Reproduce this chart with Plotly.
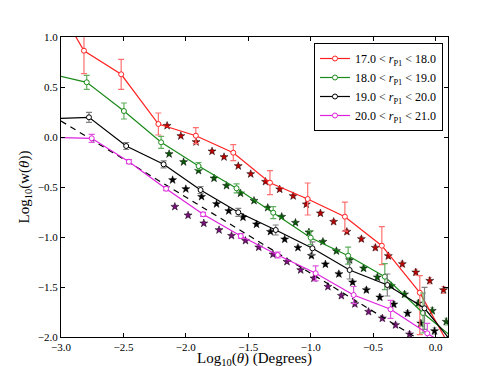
import plotly.graph_objects as go

# binned w(theta) for four r_P1 magnitude slices (open circles + lines)
labels = ['17.0 &lt; <i>r</i><sub>P1</sub> &lt; 18.0',
          '18.0 &lt; <i>r</i><sub>P1</sub> &lt; 19.0',
          '19.0 &lt; <i>r</i><sub>P1</sub> &lt; 20.0',
          '20.0 &lt; <i>r</i><sub>P1</sub> &lt; 21.0']

red_x = [-3.12, -2.816, -2.518, -2.22, -1.92, -1.62, -1.326, -1.024, -0.726, -0.43, -0.126, 0.174]
red_y = [1.51, 0.863, 0.627, 0.13, 0.013, -0.157, -0.457, -0.62, -0.797, -1.087, -1.557, -2.23]
red_up = [0.3, 0.24, 0.15, 0.11, 0.08, 0.08, 0.12, 0.16, 0.145, 0.19, 0.17, 0.3]
red_dn = [0.3, 0.23, 0.15, 0.11, 0.08, 0.08, 0.12, 0.16, 0.145, 0.19, 0.42, 0.3]

green_x = [-3.1, -2.794, -2.496, -2.198, -1.898, -1.594, -1.30, -1.0, -0.70, -0.406, -0.1, 0.2]
green_y = [0.635, 0.547, 0.26, -0.053, -0.29, -0.513, -0.757, -1.007, -1.187, -1.397, -1.76, -2.07]
green_err = [0.07, 0.07, 0.08, 0.06, 0.035, 0.045, 0.06, 0.07, 0.085, 0.13, 0.2, 0.25]

black_x = [-3.08, -2.776, -2.478, -2.178, -1.882, -1.58, -1.28, -0.986, -0.688, -0.386, -0.088, 0.21]
black_y = [0.183, 0.197, -0.09, -0.273, -0.53, -0.753, -0.93, -1.113, -1.33, -1.48, -1.713, -2.17]
black_err = [0.05, 0.05, 0.035, 0.035, 0.035, 0.04, 0.05, 0.065, 0.09, 0.11, 0.21, 0.3]

mag_x = [-3.06, -2.754, -2.456, -2.158, -1.862, -1.56, -1.264, -0.96, -0.656, -0.36, -0.066, 0.234]
mag_y = [-0.005, -0.013, -0.247, -0.517, -0.773, -0.99, -1.18, -1.363, -1.58, -1.723, -1.963, -2.2]
mag_err = [0.04, 0.04, 0.02, 0.02, 0.02, 0.025, 0.03, 0.075, 0.085, 0.09, 0.1, 0.15]

# finer binned measurements (stars)
rs_x = [-2.15, -2.04, -1.918, -1.79, -1.694, -1.58, -1.48, -1.362, -1.248, -1.14, -1.035,
        -0.922, -0.816, -0.71, -0.594, -0.482, -0.378, -0.266, -0.158, -0.046, 0.064]
rs_y = [0.113, 0.01, -0.05, -0.143, -0.2, -0.29, -0.37, -0.447, -0.523, -0.59, -0.673,
        -0.763, -0.847, -0.947, -1.02, -1.107, -1.19, -1.27, -1.353, -1.437, -1.53]
gs_x = [-2.134, -2.018, -1.898, -1.774, -1.674, -1.562, -1.454, -1.344, -1.232, -1.122, -1.014,
        -0.902, -0.794, -0.688, -0.576, -0.466, -0.354, -0.248, -0.138, -0.026, 0.086]
gs_y = [-0.17, -0.25, -0.337, -0.413, -0.487, -0.563, -0.637, -0.707, -0.797, -0.857, -0.953,
        -1.047, -1.14, -1.23, -1.313, -1.403, -1.49, -1.573, -1.663, -1.737, -1.847]
ks_x = [-2.106, -2.0, -1.874, -1.754, -1.656, -1.542, -1.434, -1.322, -1.208, -1.102, -0.994,
        -0.882, -0.774, -0.664, -0.554, -0.446, -0.334, -0.224, -0.118, -0.008, 0.102]
ks_y = [-0.43, -0.52, -0.597, -0.67, -0.74, -0.803, -0.873, -0.947, -1.023, -1.107, -1.187,
        -1.273, -1.37, -1.453, -1.53, -1.603, -1.673, -1.763, -1.863, -1.94, -2.03]
ps_x = [-2.088, -1.982, -1.856, -1.734, -1.634, -1.522, -1.416, -1.302, -1.19, -1.08, -0.974,
        -0.862, -0.754, -0.646, -0.536, -0.426, -0.32, -0.208, -0.1, 0.01, 0.12]
ps_y = [-0.697, -0.783, -0.863, -0.93, -0.987, -1.037, -1.103, -1.173, -1.247, -1.33, -1.413,
        -1.497, -1.587, -1.67, -1.747, -1.813, -1.88, -1.973, -2.05, -2.1, -2.2]
star_err = [0.015, 0.015, 0.015, 0.015, 0.015, 0.015, 0.017, 0.017, 0.018, 0.018, 0.02,
            0.02, 0.022, 0.022, 0.024, 0.025, 0.026, 0.028, 0.03, 0.032, 0.035]

# power-law reference (dashed)
dash_x = [-3.0, 0.1]
dash_y = [0.16, -2.2]

fig = go.Figure()

stars = [(rs_x, rs_y, '#c00000', '#ff8a8a'),
         (gs_x, gs_y, '#0a5a0a', '#8fcf8f'),
         (ks_x, ks_y, '#000000', '#999999'),
         (ps_x, ps_y, '#7a107a', '#e08ae0')]
for sx, sy, col, ecol in stars:
    fig.add_trace(go.Scatter(
        x=sx, y=sy, mode='markers', showlegend=False,
        marker=dict(symbol='star', size=6, color=col, line=dict(color='black', width=0.5)),
        error_y=dict(type='data', array=star_err, color=ecol, thickness=1, width=2)
    ))

fig.add_trace(go.Scatter(x=dash_x, y=dash_y, mode='lines', showlegend=False,
                         line=dict(color='black', width=1.2, dash='6px,5px')))

series = [(red_x, red_y, red_up, red_dn, '#ff2020', '#ff7070'),
          (green_x, green_y, green_err, green_err, '#1a8a1a', '#60b060'),
          (black_x, black_y, black_err, black_err, '#000000', '#808080'),
          (mag_x, mag_y, mag_err, mag_err, '#dd22dd', '#dd55dd')]
for i, (sx, sy, eu, ed, col, ecol) in enumerate(series):
    fig.add_trace(go.Scatter(
        x=sx, y=sy, mode='lines+markers', name=labels[i],
        line=dict(color=col, width=1.2),
        marker=dict(symbol='circle', size=5, color='white', line=dict(color=col, width=1)),
        error_y=dict(type='data', array=eu, arrayminus=ed, color=ecol, thickness=1.2, width=3)
    ))

# page has an 8px body margin, so margins are shifted to land the axes box where the reference has it
axis_font = dict(family='Liberation Serif', size=11, color='black')
fig.update_layout(
    width=498, height=366,
    margin=dict(l=53, r=58, t=29, b=37, autoexpand=False),
    plot_bgcolor='white', paper_bgcolor='white',
    font=dict(family='Liberation Serif', color='black'),
    xaxis=dict(range=[-3.0, 0.1], dtick=0.5, tick0=-3.0, tickformat='.1f',
               showgrid=False, zeroline=False, showline=True, linecolor='black', linewidth=1,
               mirror='allticks', ticks='inside', ticklen=4, tickcolor='black',
               tickfont=axis_font, automargin=False),
    yaxis=dict(range=[-2.0, 1.0], dtick=0.5, tickformat='.1f',
               showgrid=False, zeroline=False, showline=True, linecolor='black', linewidth=1,
               mirror='allticks', ticks='inside', ticklen=4, tickcolor='black',
               tickfont=axis_font, automargin=False,
               title=dict(text='Log<sub>10</sub>(w(<i>θ</i>))', font=dict(size=15), standoff=4)),
    legend=dict(x=0.987, y=0.98, xanchor='right', yanchor='top',
                bordercolor='black', borderwidth=1, bgcolor='white',
                font=dict(family='Liberation Serif', size=12), itemwidth=30,
                tracegroupgap=0),
    annotations=[dict(text='Log<sub>10</sub>(<i>θ</i>) (Degrees)', x=0.5, y=0,
                      xref='paper', yref='paper', xanchor='center', yanchor='top',
                      yshift=-11, showarrow=False, font=dict(size=15))]
)

fig.write_html("out.html")
